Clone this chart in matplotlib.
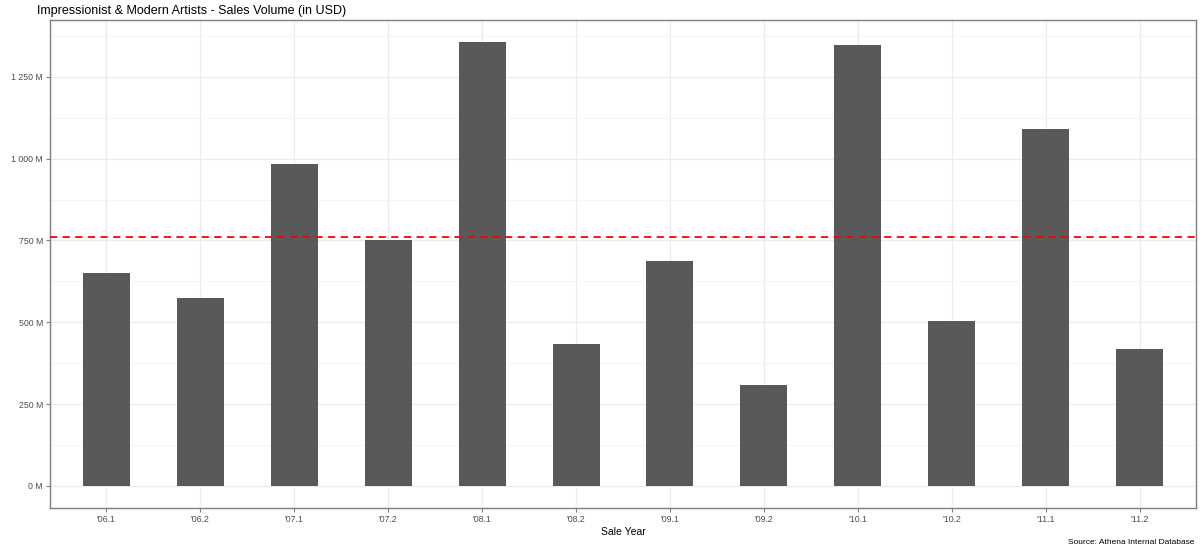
import numpy as np
import matplotlib
matplotlib.use("Agg")
import matplotlib.pyplot as plt
from matplotlib.ticker import FixedLocator, FuncFormatter

# data (millions of USD)
periods = ["'06.1", "'06.2", "'07.1", "'07.2", "'08.1", "'08.2",
           "'09.1", "'09.2", "'10.1", "'10.2", "'11.1", "'11.2"]
sales_m = [652, 575, 985, 750, 1356, 435, 688, 309, 1346, 505, 1092, 419]
y_ticks = [0, 250, 500, 750, 1000, 1250]

plt.rcParams['font.family'] = ['Liberation Sans', 'DejaVu Sans']

fig = plt.figure(figsize=(12, 5.53), dpi=100)
ax = fig.add_axes([50/1200, 45/553, 1146/1200, 488/553])

x = np.arange(len(periods))
ax.bar(x, sales_m, width=0.5, color='#595959', zorder=3)
ax.axhline(np.mean(sales_m), color='red', linestyle=(0, (4, 3)), lw=1.3, zorder=4)

ymax = max(sales_m)
ax.set_ylim(-0.05*ymax, 1.05*ymax)
ax.set_xlim(-0.6, len(periods) - 0.4)

ax.set_xticks(x)
ax.set_xticklabels(periods)
ax.yaxis.set_major_locator(FixedLocator(y_ticks))
ax.yaxis.set_major_formatter(FuncFormatter(lambda v, p: f"{int(v):,} M".replace(",", " ")))
ax.yaxis.set_minor_locator(FixedLocator([125, 375, 625, 875, 1125, 1375]))

ax.grid(True, which='major', color='#EBEBEB', lw=0.9, zorder=0)
ax.grid(True, which='minor', axis='y', color='#F3F3F3', lw=0.6, zorder=0)
ax.set_axisbelow(True)

for s in ax.spines.values():
    s.set_color('#7f7f7f')
    s.set_linewidth(1.0)

ax.tick_params(axis='both', which='major', length=3, color='#7f7f7f',
               labelsize=6.3, labelcolor='#4D4D4D', pad=2)
ax.tick_params(axis='both', which='minor', length=0)

ax.set_xlabel("Sale Year", fontsize=7.5, color='black', labelpad=2)
ax.set_title("Impressionist & Modern Artists - Sales Volume (in USD)",
             fontsize=9, loc='left', x=-0.011, pad=4)
fig.text(0.995, 0.013, "Source: Athena Internal Database", ha='right', va='bottom',
         fontsize=6, color='black')

fig.savefig("out.png", dpi=100)
